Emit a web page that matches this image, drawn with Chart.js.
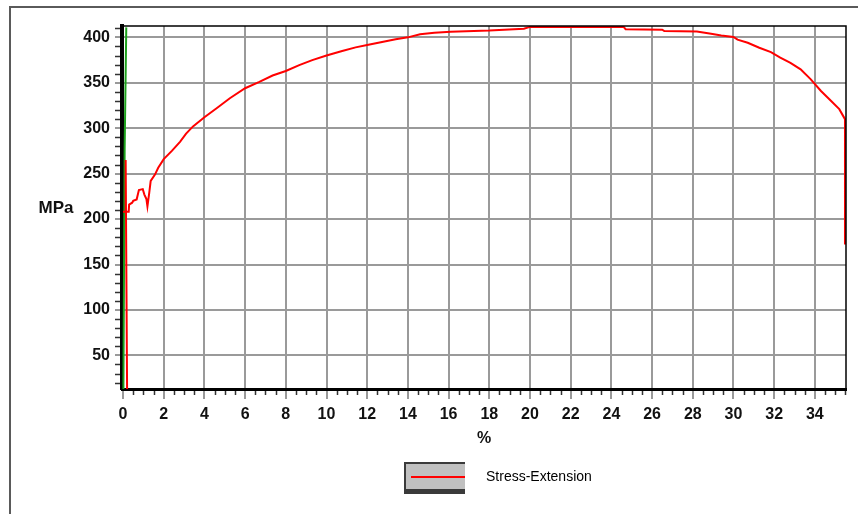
<!DOCTYPE html>
<html>
<head>
<meta charset="utf-8">
<script src="https://cdn.jsdelivr.net/npm/chart.js@4"></script>
<style>
  body { margin: 0; background: #fff; }
  canvas { display: block; }
</style>
</head>
<body>
<canvas id="chart" width="858" height="514"></canvas>
<script>
// values
const xTicks = [0, 2, 4, 6, 8, 10, 12, 14, 16, 18, 20, 22, 24, 26, 28, 30, 32, 34]
const yTicks = [50, 100, 150, 200, 250, 300, 350, 400]

const strainPct = [0.2, 0.13, 0.13, 0.0, 0.28, 0.3, 0.45, 0.5, 0.67, 0.78, 0.97, 1.05, 1.15, 1.2, 1.29, 1.36, 1.57, 1.73,
    2.0, 2.4, 2.8, 3.1, 3.44, 4.0, 4.6, 5.25, 6.0, 6.7, 7.35, 8.0, 8.66, 9.3, 10.0, 10.77, 11.43, 12.0, 12.73, 13.4, 14.0,
    14.6, 15.3, 16.1, 18.0, 19.7, 20.0, 24.6, 24.7, 26.5, 26.6, 28.2, 28.9, 29.4, 30.0, 30.2, 30.7, 31.27, 31.84, 32.3,
    32.8, 33.3, 33.8, 34.3, 34.8, 35.2, 35.48, 35.48]
const stressMPa = [13, 265, 208, 208, 208, 216, 218, 220, 221.6, 232, 233, 227, 222, 214, 229, 242, 249, 256.5,
    266, 275, 285, 294, 302, 312, 322, 333, 344, 351, 358, 363, 369.5, 375, 380, 385, 389, 391.5, 395, 398, 400,
    403.5, 405, 406.3, 407.5, 409.5, 411.5, 411.5, 409, 408.5, 407, 406.5, 404, 402, 400.5, 397.5, 394, 388.6, 383.8, 377.6,
    372, 364.8, 353.8, 341, 330, 321, 310, 172]

const slopeX = [0.02, 0.08, 0.16]
const slopeY = [13, 278, 411]

const seriesLabel = 'Stress-Extension'
const yUnit = 'MPa'
const xUnit = '%'

const toPoints = (xs, ys) => xs.map((x, i) => ({ x: x, y: ys[i] }))

const labelFont = { family: 'Liberation Sans, Arial, sans-serif', size: 16, weight: 'bold' }

const extras = {
    id: 'extras',
    beforeDraw(chart) {
        const c = chart.ctx
        c.save()
        c.strokeStyle = '#5a5a5a'
        c.lineWidth = 2
        c.strokeRect(10, 7, 870, 530)
        c.restore()
    },
    afterDraw(chart) {
        const c = chart.ctx
        const a = chart.chartArea
        const xs = chart.scales.x
        const ys = chart.scales.y
        c.save()
        // top and right frame
        c.strokeStyle = '#000'
        c.lineWidth = 1.5
        c.beginPath()
        c.moveTo(a.left, a.top)
        c.lineTo(a.right, a.top)
        c.lineTo(a.right, a.bottom)
        c.stroke()

        // minor ticks
        c.strokeStyle = '#333'
        c.lineWidth = 1.5
        c.beginPath()
        for (let v = 20; v <= 410; v += 10) {
            if (v % 50 === 0) continue
            const py = Math.round(ys.getPixelForValue(v)) + 0.5
            c.moveTo(a.left - 7, py)
            c.lineTo(a.left - 2, py)
        }
        for (let k = 1; k <= 71; k++) {
            if (k % 4 === 0) continue
            const px = Math.round(xs.getPixelForValue(k * 0.5)) + 0.5
            if (px > a.right) break
            c.moveTo(px, a.bottom + 2)
            c.lineTo(px, a.bottom + 6)
        }
        c.stroke()

        // horizontal y-axis title
        c.fillStyle = '#111'
        c.font = 'bold 17px Liberation Sans, Arial, sans-serif'
        c.textAlign = 'center'
        c.textBaseline = 'middle'
        c.fillText(yUnit, 56, (a.top + a.bottom) / 2 + 1)

        // legend
        c.fillStyle = '#3a3a3a'
        c.fillRect(404, 462, 61, 32)
        c.fillStyle = '#c0c0c0'
        c.fillRect(406, 464, 59, 25)
        c.strokeStyle = '#ff0000'
        c.lineWidth = 2
        c.beginPath()
        c.moveTo(411, 477)
        c.lineTo(465, 477)
        c.stroke()
        c.fillStyle = '#000'
        c.font = '14px Liberation Sans, Arial, sans-serif'
        c.textAlign = 'left'
        c.fillText(chart.data.datasets[0].label, 486, 477)
        c.restore()
    }
}

const config = {
    type: 'scatter',
    data: {
        datasets: [{
            label: seriesLabel,
            data: toPoints(strainPct, stressMPa),
            showLine: true,
            borderColor: '#ff0000',
            borderWidth: 2,
            pointRadius: 0,
            tension: 0
        }, {
            label: 'slope',
            data: toPoints(slopeX, slopeY),
            showLine: true,
            borderColor: '#1ca01c',
            borderWidth: 2,
            pointRadius: 0,
            tension: 0
        }]
    },
    options: {
        responsive: false,
        animation: false,
        devicePixelRatio: 1,
        layout: {
            padding: { left: 0, top: 26, right: 12, bottom: 66 }
        },
        plugins: {
            legend: { display: false },
            tooltip: { enabled: false }
        },
        scales: {
            x: {
                type: 'linear',
                min: -0.05,
                max: 35.53,
                afterBuildTicks: s => { s.ticks = xTicks.map(v => ({ value: v })) },
                afterFit: s => { s.height = 59 },
                grid: { color: '#9a9a9a', lineWidth: 2, tickLength: 10, tickColor: '#9a9a9a' },
                border: { color: '#000', width: 3 },
                ticks: { font: labelFont, color: '#111', padding: 6, maxRotation: 0 },
                title: {
                    display: true,
                    text: xUnit,
                    font: labelFont,
                    color: '#111',
                    padding: 0
                }
            },
            y: {
                type: 'linear',
                min: 13,
                max: 412.5,
                afterBuildTicks: s => { s.ticks = yTicks.map(v => ({ value: v })) },
                afterFit: s => { s.width = 122 },
                grid: { color: '#9a9a9a', lineWidth: 2, tickLength: 7, tickColor: '#9a9a9a' },
                border: { color: '#000', width: 4 },
                ticks: { font: labelFont, color: '#111', padding: 5 }
            }
        }
    },
    plugins: [extras]
}

new Chart(document.getElementById('chart').getContext('2d'), config)
</script>
</body>
</html>
